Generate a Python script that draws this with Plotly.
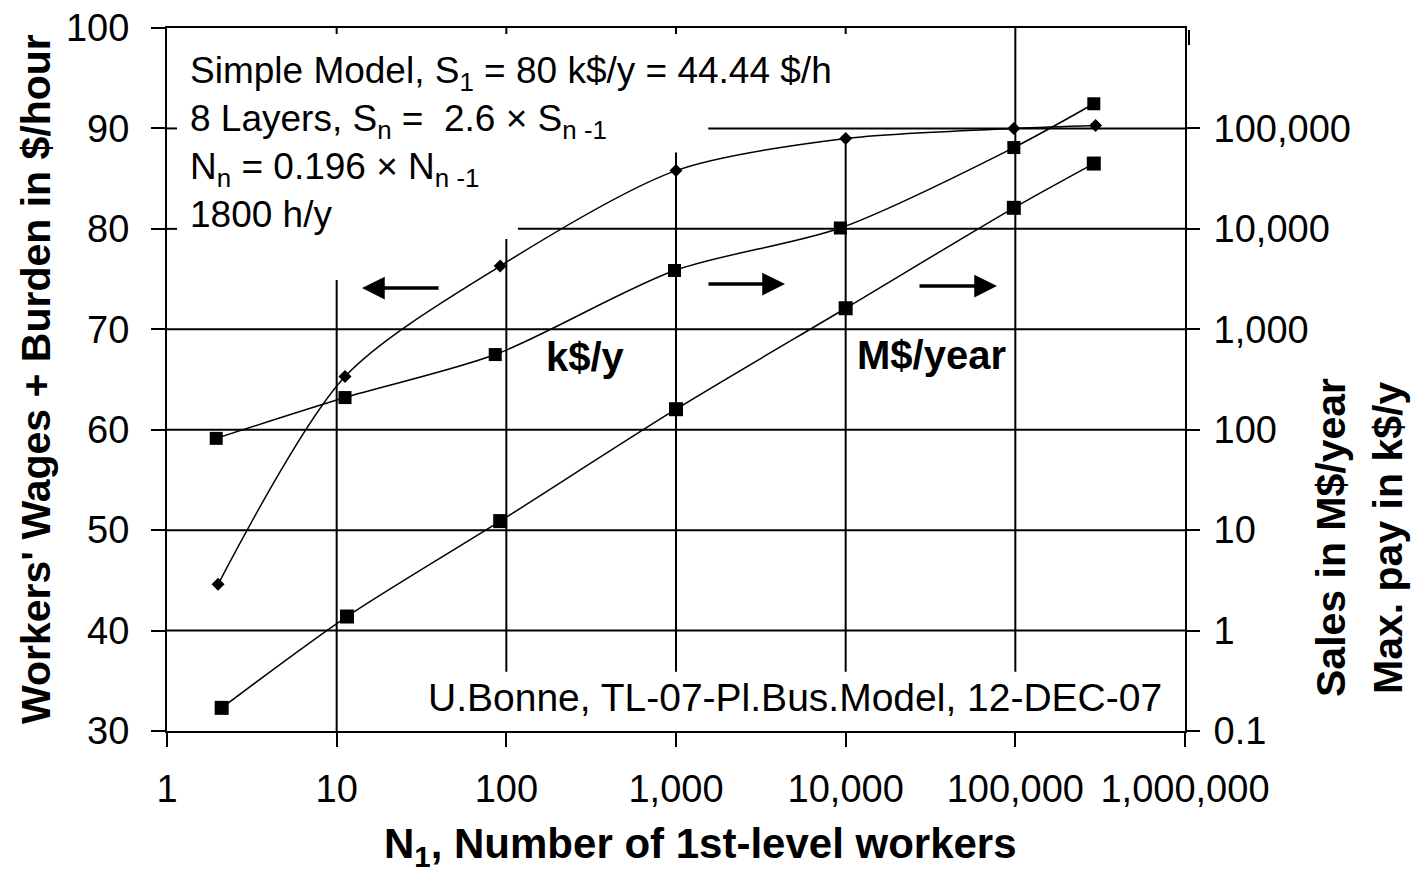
import math
import plotly.graph_objects as go

# ---------------- data ----------------
n_wage = [2, 11.2, 92, 1000, 10000, 98000, 297000]
wage_per_hour = [44.6, 65.3, 76.3, 85.8, 89.0, 90.0, 90.3]

n_pay = [1.95, 11.2, 86, 980, 9300, 98000, 290000]
max_pay_kusd = [82, 209, 560, 3850, 10200, 64500, 176000]

n_sales = [2.1, 11.5, 92, 1000, 10000, 98000, 290000]
sales_musd = [0.17, 1.38, 12.3, 160, 1620, 16200, 44700]

x_tickvals = [1, 10, 100, 1000, 10000, 100000, 1000000]
x_ticktext = ["1", "10", "100", "1,000", "10,000", "100,000", "1,000,000"]
y_tickvals = [30, 40, 50, 60, 70, 80, 90, 100]
y2_tickvals = [0.1, 1, 10, 100, 1000, 10000, 100000]
y2_ticktext = ["0.1", "1", "10", "100", "1,000", "10,000", "100,000"]

# ---------------- layout geometry ----------------
W, H = 1428, 874
L, R, T, B = 167, 243, 28, 143
PW, PH = W - L - R, H - T - B
FONT = "Liberation Sans, Arial, sans-serif"


def px(xp):
    return (xp - L) / PW


def py(yp):
    return (H - B - yp) / PH


def xpaper(n):
    return math.log10(n) / 6.0


fig = go.Figure()

line_style = dict(color="black", width=1.5, shape="spline", smoothing=0.8)

fig.add_trace(go.Scatter(
    x=n_wage, y=wage_per_hour, mode="lines+markers",
    line=line_style,
    marker=dict(symbol="diamond", size=10, color="black"),
    yaxis="y", showlegend=False))

fig.add_trace(go.Scatter(
    x=n_pay, y=max_pay_kusd, mode="lines+markers",
    line=line_style,
    marker=dict(symbol="square", size=13, color="black"),
    yaxis="y2", showlegend=False))

fig.add_trace(go.Scatter(
    x=n_sales, y=sales_musd, mode="lines+markers",
    line=line_style,
    marker=dict(symbol="square", size=14, color="black"),
    yaxis="y2", showlegend=False))

# ---------------- partial grid lines (clipped by the text boxes) ----------------
shapes = []
h_grid = [(90, 1550), (80, 117), (70, 1), (60, 1), (50, 1), (40, 1)]
for yv, xs in h_grid:
    shapes.append(dict(type="line", xref="paper", yref="y",
                       x0=xpaper(xs), x1=1, y0=yv, y1=yv,
                       line=dict(color="black", width=2), layer="below"))
v_grid = [(10, 30, 74.9), (100, 35.9, 79.0), (1000, 35.9, 87.6),
          (10000, 35.9, 89.3), (100000, 35.9, 100)]
for xv, y0, y1 in v_grid:
    shapes.append(dict(type="line", xref="paper", yref="y",
                       x0=xpaper(xv), x1=xpaper(xv), y0=y0, y1=y1,
                       line=dict(color="black", width=2), layer="below"))
# short inner stubs of left ticks where grid is hidden
for yv in (90, 80):
    shapes.append(dict(type="line", xref="paper", yref="y",
                       x0=0, x1=px(L + 10), y0=yv, y1=yv,
                       line=dict(color="black", width=2), layer="below"))
# small inward ticks along the top frame
for xv in (10, 100, 1000, 10000):
    shapes.append(dict(type="line", xref="paper", yref="paper",
                       x0=xpaper(xv), x1=xpaper(xv), y0=1, y1=py(T + 6),
                       line=dict(color="black", width=2), layer="below"))
# little stub at the top of the right axis
shapes.append(dict(type="line", xref="paper", yref="paper",
                   x0=px(1189), x1=px(1189), y0=py(T + 2), y1=py(T + 17),
                   line=dict(color="black", width=2), layer="above"))

annotations = []


def note(text, x, y, size, xanchor="center", angle=0, bold=False, **kw):
    annotations.append(dict(text=("<b>%s</b>" % text) if bold else text,
                            xref="paper", yref="paper", x=px(x), y=py(y),
                            xanchor=xanchor, yanchor="middle", textangle=angle,
                            showarrow=False,
                            font=dict(family=FONT, size=size, color="black"), **kw))


# text box, upper left (one block of four lines)
box_lines = [
    "Simple Model, S<sub>1</sub> = 80 k$/y = 44.44 $/h",
    "8 Layers, S<sub>n</sub> =  2.6 × S<sub>n -1</sub>",
    "N<sub>n</sub> = 0.196 × N<sub>n -1</sub>",
    "1800 h/y",
]
note("<br>".join(box_lines), 188, 143, 37, xanchor="left", align="left")

note("U.Bonne, TL-07-Pl.Bus.Model, 12-DEC-07", 1164, 697, 39, xanchor="right",
     bgcolor="white")

# series labels
note("k$/y", 585, 357, 40, bold=True)
note("M$/year", 931, 355, 40, bold=True)

# arrows
arrows = [(362, 288, 78), (785, 284, -78), (997, 286, -79)]
for hx, hy, dx in arrows:
    annotations.append(dict(text="", xref="paper", yref="paper",
                            x=px(hx), y=py(hy), ax=dx, ay=0,
                            showarrow=True, arrowhead=2, arrowsize=1.3,
                            arrowwidth=3.5, arrowcolor="black"))

# axis titles
note("Workers' Wages + Burden in $/hour", 36, 379, 41, angle=-90, bold=True)
note("Sales in M$/year", 1331, 538, 41, angle=-90, bold=True)
note("Max. pay in k$/y", 1388, 538, 41, angle=-90, bold=True)
note("N<sub>1</sub>, Number of 1st-level workers", 700, 846, 42, bold=True)

tickfont = dict(family=FONT, size=38, color="black")

fig.update_layout(
    width=W, height=H,
    margin=dict(l=L, r=R, t=T, b=B, pad=0, autoexpand=False),
    paper_bgcolor="white", plot_bgcolor="white",
    showlegend=False,
    xaxis=dict(type="log", range=[0, 6], tickvals=x_tickvals, ticktext=x_ticktext,
               showgrid=False, zeroline=False, showline=True, linecolor="black",
               linewidth=2, mirror=True, ticks="outside", ticklen=14, tickwidth=2,
               tickcolor="black", tickfont=tickfont, ticklabelstandoff=9,
               automargin=False),
    yaxis=dict(range=[30, 100], tickvals=y_tickvals, showgrid=False, zeroline=False,
               showline=True, linecolor="black", linewidth=2, ticks="outside",
               ticklen=14, tickwidth=2, tickcolor="black", tickfont=tickfont,
               ticklabelstandoff=14, automargin=False),
    yaxis2=dict(type="log", range=[-1, 6], overlaying="y", side="right",
                tickvals=y2_tickvals, ticktext=y2_ticktext, showgrid=False,
                zeroline=False, showline=True, linecolor="black", linewidth=2,
                ticks="outside", ticklen=13, tickwidth=2, tickcolor="black",
                tickfont=tickfont, ticklabelstandoff=6, automargin=False),
    shapes=shapes,
    annotations=annotations,
)

fig.write_html("out.html")
